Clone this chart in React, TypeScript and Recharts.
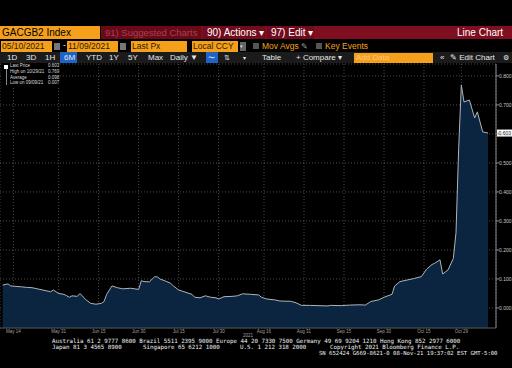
import React from 'react';
import { AreaChart, Area, XAxis, YAxis, CartesianGrid, ReferenceLine } from 'recharts';

// GACGB2 Index, daily last price, 05/10/2021 - 11/09/2021
const DATES = [
  '2021-05-10', '2021-05-12', '2021-05-13', '2021-05-17', '2021-05-19', '2021-05-21', '2021-05-24',
  '2021-05-28', '2021-05-29', '2021-05-31', '2021-06-02', '2021-06-04', '2021-06-05', '2021-06-07',
  '2021-06-08', '2021-06-10', '2021-06-12', '2021-06-14', '2021-06-16', '2021-06-17', '2021-06-18',
  '2021-06-20', '2021-06-22', '2021-06-24', '2021-06-27', '2021-06-30', '2021-07-01', '2021-07-02',
  '2021-07-04', '2021-07-06', '2021-07-07', '2021-07-08', '2021-07-10', '2021-07-12', '2021-07-13',
  '2021-07-15', '2021-07-17', '2021-07-20', '2021-07-21', '2021-07-23', '2021-07-25', '2021-07-27',
  '2021-07-29', '2021-07-30', '2021-08-01', '2021-08-04', '2021-08-06', '2021-08-08', '2021-08-11',
  '2021-08-14', '2021-08-15', '2021-08-17', '2021-08-20', '2021-08-22', '2021-08-26', '2021-08-28',
  '2021-08-30', '2021-09-02', '2021-09-06', '2021-09-09', '2021-09-10', '2021-09-14', '2021-09-17',
  '2021-09-21', '2021-09-23', '2021-09-25', '2021-09-28', '2021-09-30', '2021-10-03', '2021-10-04',
  '2021-10-06', '2021-10-09', '2021-10-11', '2021-10-14', '2021-10-16', '2021-10-18', '2021-10-19',
  '2021-10-21', '2021-10-22', '2021-10-24', '2021-10-26', '2021-10-27', '2021-10-28', '2021-10-29',
  '2021-10-30', '2021-11-01', '2021-11-03', '2021-11-04', '2021-11-06', '2021-11-08',
];
const PRICES = [
  0.079, 0.083, 0.076, 0.073, 0.071, 0.070, 0.064,
  0.056, 0.062, 0.050, 0.047, 0.037, 0.042, 0.040,
  0.050, 0.030, 0.016, 0.013, 0.016, 0.022, 0.047,
  0.076, 0.070, 0.066, 0.068, 0.064, 0.094, 0.091,
  0.090, 0.108, 0.107, 0.100, 0.093, 0.085, 0.076,
  0.062, 0.056, 0.047, 0.037, 0.035, 0.042, 0.037,
  0.035, 0.031, 0.039, 0.040, 0.042, 0.049, 0.047,
  0.045, 0.037, 0.031, 0.028, 0.024, 0.023, 0.018,
  0.009, 0.009, 0.008, 0.007, 0.009, 0.008, 0.010,
  0.011, 0.010, 0.022, 0.028, 0.037, 0.047, 0.076,
  0.091, 0.097, 0.101, 0.108, 0.134, 0.150, 0.154,
  0.166, 0.117, 0.131, 0.171, 0.260, 0.550, 0.769,
  0.710, 0.717, 0.655, 0.676, 0.607, 0.603,
];
const TICK_DATES = [
  '2021-05-14', '2021-05-31', '2021-06-15', '2021-06-30', '2021-07-15', '2021-07-30',
  '2021-08-16', '2021-08-31', '2021-09-15', '2021-09-30', '2021-10-15', '2021-10-29',
];
const TICK_LABELS = ['May 14', 'May 31', 'Jun 15', 'Jun 30', 'Jul 15', 'Jul 30', 'Aug 16', 'Aug 31', 'Sep 15', 'Sep 30', 'Oct 15', 'Oct 29'];
const Y_TICKS = [0, 0.1, 0.2, 0.3, 0.4, 0.5, 0.6, 0.7, 0.8];
const LAST_PRICE = 0.603;

const START = Date.parse('2021-05-10');
const dayOf = (d: string) => Math.round((Date.parse(d) - START) / 86400000);

const data = DATES.map((d, i) => ({ day: dayOf(d), px: PRICES[i] }));
const tickDays = TICK_DATES.map(dayOf);

const ORANGE = '#f5a01b';
const sans = '"Liberation Sans", Arial, sans-serif';
const mono = '"DejaVu Sans Mono", monospace';

const abs = (left: number, top: number, extra: React.CSSProperties = {}): React.CSSProperties => ({
  position: 'absolute',
  left,
  top,
  whiteSpace: 'nowrap',
  ...extra,
});

function XTick({ x, y, payload }: any) {
  const i = tickDays.indexOf(payload.value);
  return (
    <text x={x} y={y + 5} textAnchor="middle" fill="#a0a0a0" fontSize={4.5} fontFamily={sans}>
      {TICK_LABELS[i]}
    </text>
  );
}

function YTick({ x, y, payload }: any) {
  return (
    <text x={x} y={y + 1.8} fill="#c8c8c8" fontSize={5} fontFamily={sans}>
      {payload.value.toFixed(3)}
    </text>
  );
}

function LastTag({ viewBox }: any) {
  const x = viewBox.x + viewBox.width + 1;
  return (
    <g>
      <rect x={x} y={viewBox.y - 3.5} width={15} height={7} fill="#fff" />
      <text x={x + 1.5} y={viewBox.y + 1.8} fill="#000" fontSize={5} fontFamily={sans}>
        {LAST_PRICE.toFixed(3)}
      </text>
    </g>
  );
}

const btn = (left: number, label: string, extra: React.CSSProperties = {}) => (
  <div style={abs(left, 53, { fontSize: 8, color: '#e8e8e8', lineHeight: '10px', ...extra })}>{label}</div>
);

export default function App() {
  return (
    <div style={{ position: 'absolute', left: 0, top: 0, width: 512, height: 368, background: '#000', overflow: 'hidden', fontFamily: sans }}>
      {/* title bar */}
      <div style={abs(0, 26, { width: 100, height: 13, background: ORANGE, color: '#000', fontSize: 10, lineHeight: '13px', paddingLeft: 2, boxSizing: 'border-box' })}>
        GACGB2 Index
      </div>
      <div style={abs(101, 26, { width: 411, height: 13, background: '#7e0e20' })} />
      <div style={abs(101, 26, { width: 100, height: 13, background: '#6a0a19', color: '#a8404f', fontSize: 9.5, lineHeight: '13px', paddingLeft: 4, boxSizing: 'border-box' })}>
        91) Suggested Charts
      </div>
      <div style={abs(203, 26, { width: 62, height: 13, background: '#720c1c', color: '#fff', fontSize: 10, lineHeight: '13px', paddingLeft: 4, boxSizing: 'border-box' })}>
        90) Actions ▾
      </div>
      <div style={abs(267, 26, { width: 47, height: 13, background: '#720c1c', color: '#fff', fontSize: 10, lineHeight: '13px', paddingLeft: 4, boxSizing: 'border-box' })}>
        97) Edit ▾
      </div>
      <div style={abs(457, 26, { color: '#fff', fontSize: 10, lineHeight: '13px' })}>Line Chart</div>

      {/* inputs row */}
      {[
        [1, 51, '05/10/2021'],
        [67, 51, '11/09/2021'],
        [131, 56, 'Last Px'],
        [192, 46, 'Local CCY'],
      ].map(([l, w, t]) => (
        <div key={t as string} style={abs(l as number, 41, { width: w as number, height: 11, background: ORANGE, color: '#2a1a00', fontSize: 8.5, lineHeight: '11px', paddingLeft: 1, boxSizing: 'border-box' })}>
          {t}
        </div>
      ))}
      <div style={abs(54, 43, { width: 6, height: 7, background: '#777' })} />
      <div style={abs(63, 40, { color: '#ddd', fontSize: 9 })}>-</div>
      <div style={abs(120, 43, { width: 6, height: 7, background: '#777' })} />
      <div style={abs(240, 42, { width: 6, height: 9, background: '#666', color: '#ddd', fontSize: 5, lineHeight: '9px' })}>▾</div>
      <div style={abs(253, 43, { width: 6, height: 6, background: '#555' })} />
      <div style={abs(262, 41, { color: ORANGE, fontSize: 8.5, lineHeight: '11px' })}>Mov Avgs</div>
      <div style={abs(301, 41, { color: '#999', fontSize: 8, lineHeight: '11px' })}>✎</div>
      <div style={abs(316, 43, { width: 6, height: 6, background: '#555' })} />
      <div style={abs(325, 41, { color: ORANGE, fontSize: 8.5, lineHeight: '11px' })}>Key Events</div>

      {/* range buttons row */}
      <div style={abs(0, 52, { width: 512, height: 11, background: '#1b1b1b' })} />
      <div style={abs(60, 52, { width: 17, height: 11, background: '#1f63c6' })} />
      <div style={abs(206, 52, { width: 12, height: 11, background: '#1f63c6' })} />
      {btn(7, '1D')}
      {btn(26, '3D')}
      {btn(45, '1H')}
      {btn(64, '6M')}
      {btn(86, 'YTD')}
      {btn(109, '1Y')}
      {btn(128, '5Y')}
      {btn(148, 'Max')}
      {btn(170, 'Daily ▼')}
      {btn(208, '〜', { fontSize: 7 })}
      {btn(224, '⇅', { fontSize: 7 })}
      {btn(243, '▾', { fontSize: 6 })}
      {btn(262, 'Table')}
      {btn(296, '+ Compare ▾')}
      <div style={abs(354, 53, { width: 79, height: 10, background: ORANGE, color: '#fdc778', fontSize: 8, lineHeight: '10px', paddingLeft: 2, boxSizing: 'border-box' })}>
        Add Data
      </div>
      {btn(440, '«')}
      {btn(450, '✎ Edit Chart')}
      {btn(503, '⚙', { fontSize: 7 })}

      {/* chart */}
      <div style={abs(0, 60)}>
        <AreaChart width={512} height={290} data={data} margin={{ top: 4, right: 0, bottom: 0, left: 0 }}>
          <CartesianGrid stroke="#4a4a4a" strokeDasharray="1 2" />
          <XAxis
            dataKey="day"
            type="number"
            domain={[-1, 185]}
            ticks={tickDays}
            allowDataOverflow
            height={22}
            tickSize={0}
            tickMargin={0}
            tick={<XTick />}
            axisLine={{ stroke: '#555' }}
          />
          <YAxis
            orientation="right"
            type="number"
            domain={[-0.069, 0.841]}
            ticks={Y_TICKS}
            allowDataOverflow
            width={16}
            tickSize={3}
            tickMargin={0}
            tick={<YTick />}
            axisLine={{ stroke: '#8a8a8a' }}
            tickLine={{ stroke: '#8a8a8a' }}
          />
          <Area
            type="linear"
            dataKey="px"
            baseValue="dataMin"
            stroke="#aeb3b8"
            strokeWidth={1}
            fill="#0b2540"
            fillOpacity={1}
            isAnimationActive={false}
          />
          <ReferenceLine y={LAST_PRICE} stroke="none" label={<LastTag />} />
        </AreaChart>
      </div>

      {/* legend */}
      <div style={abs(3, 63, { width: 57, height: 25, background: '#000', color: '#ddd', fontSize: 4.5, lineHeight: '5.8px', fontFamily: sans })}>
        <div style={abs(1, 2, { width: 4, height: 4, background: '#fff' })} />
        <div style={abs(3, 6, { width: 0, height: 16, borderLeft: '1px solid #888' })} />
        <div style={abs(7, 0)}>Last Price</div>
        <div style={abs(7, 5.8)}>High on 10/29/21</div>
        <div style={abs(7, 11.6)}>Average</div>
        <div style={abs(7, 17.4)}>Low on 09/09/21</div>
        <div style={abs(45, 0)}>0.603</div>
        <div style={abs(45, 5.8)}>0.769</div>
        <div style={abs(45, 11.6)}>0.098</div>
        <div style={abs(45, 17.4)}>0.007</div>
      </div>

      <div style={abs(243, 333, { color: '#a0a0a0', fontSize: 4.5 })}>2021</div>

      {/* footer */}
      <div style={abs(52, 338, { color: '#f0f0f0', fontSize: 5.8, lineHeight: '6px', fontFamily: mono })}>
        Australia 61 2 9777 8600 Brazil 5511 2395 9000 Europe 44 20 7330 7500 Germany 49 69 9204 1210 Hong Kong 852 2977 6000
      </div>
      <div style={abs(52, 344, { color: '#f0f0f0', fontSize: 5.8, lineHeight: '6px', fontFamily: mono })}>Japan 81 3 4565 8900</div>
      <div style={abs(143, 344, { color: '#f0f0f0', fontSize: 5.8, lineHeight: '6px', fontFamily: mono })}>Singapore 65 6212 1000</div>
      <div style={abs(240, 344, { color: '#f0f0f0', fontSize: 5.8, lineHeight: '6px', fontFamily: mono })}>U.S. 1 212 318 2000</div>
      <div style={abs(330, 344, { color: '#f0f0f0', fontSize: 5.8, lineHeight: '6px', fontFamily: mono })}>Copyright 2021 Bloomberg Finance L.P.</div>
      <div style={abs(319, 350, { color: '#f0f0f0', fontSize: 5.6, lineHeight: '6px', fontFamily: mono })}>
        SN 652424 G669-8621-0 08-Nov-21 19:37:02 EST  GMT-5:00
      </div>
    </div>
  );
}
